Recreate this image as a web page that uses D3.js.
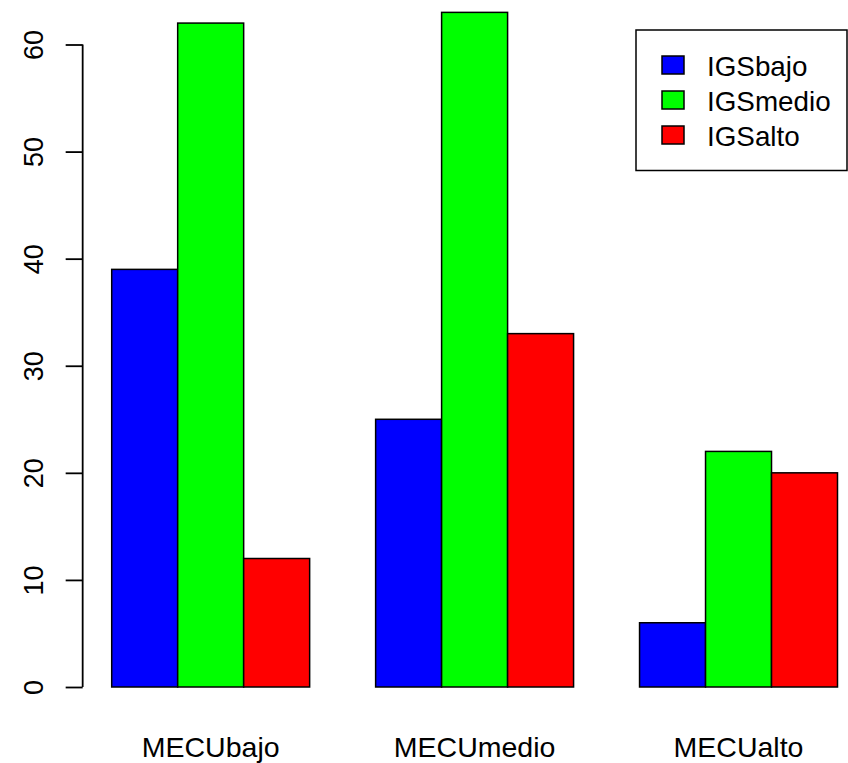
<!DOCTYPE html>
<html>
<head>
<meta charset="utf-8">
<script src="https://cdn.jsdelivr.net/npm/d3@7"></script>
<style>
  html, body { margin: 0; padding: 0; background: #fff; }
  svg { display: block; }
  text { font-family: "Liberation Sans", Arial, sans-serif; fill: #000; }
</style>
</head>
<body>
<script>
// Grouped bar chart: IGS levels within each MECU level
const groups = ["MECUbajo", "MECUmedio", "MECUalto"];
const series = ["IGSbajo", "IGSmedio", "IGSalto"];
const colors = ["#0000ff", "#00ff00", "#ff0000"];
const igsBajo  = [39, 25, 6];
const igsMedio = [62, 63, 22];
const igsAlto  = [12, 33, 20];
const yTicks = [0, 10, 20, 30, 40, 50, 60];

const values = [igsBajo, igsMedio, igsAlto];

const W = 848, H = 763;
const svg = d3.select("body").append("svg").attr("width", W).attr("height", H);

// Bar slots in barplot units: each group has 3 bars of width 1, separated by 1 unit of space
const slots = [];
groups.forEach((g, gi) => {
  series.forEach((s, si) => {
    const left = 1 + gi * 4 + si;
    slots.push({ g, gi, s, si, left, value: values[si][gi] });
  });
});

const x = d3.scaleLinear().domain([1, 12]).range([111.7, 837.5]);
const y = d3.scaleLinear().domain([0, 60]).range([687, 44.5]);

// Bars
svg.append("g").selectAll("rect")
  .data(slots)
  .join("rect")
  .attr("x", d => x(d.left))
  .attr("y", d => y(d.value))
  .attr("width", d => x(d.left + 1) - x(d.left))
  .attr("height", d => y(0) - y(d.value))
  .attr("fill", d => colors[d.si])
  .attr("stroke", "#000")
  .attr("stroke-width", 1.5);

// Y axis at the left edge of the plot region
const yAxis = d3.axisLeft(y).tickValues(yTicks).tickSize(17).tickPadding(0).tickFormat(d3.format("d"));
const gy = svg.append("g").attr("transform", `translate(${x(0.56)},0)`).call(yAxis);
gy.select(".domain").attr("d", `M0,${y(0)}V${y(60)}`).attr("stroke", "#000").attr("stroke-width", 1.8);
gy.selectAll(".tick line").attr("stroke", "#000").attr("stroke-width", 1.8);
gy.selectAll(".tick text")
  .attr("x", 0).attr("dy", null)
  .attr("transform", "translate(-40,0) rotate(-90)")
  .attr("text-anchor", "middle")
  .attr("dominant-baseline", "auto")
  .style("font-size", "27px")
  .style("font-family", "'Liberation Sans', Arial, sans-serif")
  .attr("fill", "#000");

// Group labels
svg.append("g").selectAll("text")
  .data(groups)
  .join("text")
  .attr("x", (d, i) => (x(1 + i * 4) + x(4 + i * 4)) / 2)
  .attr("y", 757)
  .attr("text-anchor", "middle")
  .style("font-size", "28.5px")
  .text(d => d);

// Legend
const lg = svg.append("g");
lg.append("rect")
  .attr("x", 636).attr("y", 30).attr("width", 211).attr("height", 140.5)
  .attr("fill", "#fff").attr("stroke", "#000").attr("stroke-width", 1.5);
const items = lg.selectAll("g.item").data(series).join("g").attr("class", "item")
  .attr("transform", (d, i) => `translate(0,${i * 35})`);
items.append("rect")
  .attr("x", 662).attr("y", 56).attr("width", 22).attr("height", 18)
  .attr("fill", (d, i) => colors[i]).attr("stroke", "#000").attr("stroke-width", 1.5);
items.append("text")
  .attr("x", 707).attr("y", 76)
  .style("font-size", "27.8px")
  .text(d => d);
</script>
</body>
</html>
